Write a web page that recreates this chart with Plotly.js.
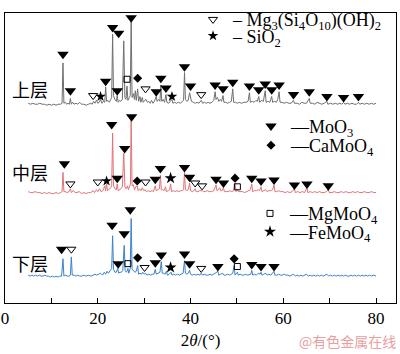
<!DOCTYPE html>
<html><head><meta charset="utf-8">
<script src="https://cdn.plot.ly/plotly-3.0.1.min.js"></script>
<style>html,body{margin:0;padding:0;background:#fff}#chart{width:400px;height:354px}</style>
</head><body><div id="chart"></div>
<script>
// [2θ (°), intensity above baseline]
const topPattern = [[5,2],[5.5,1],[6,2],[6.5,1],[7,1],[7.5,2],[8,1],[8.5,1],[9,0],[9.5,1],[10,0],[10.5,1],[11,0],[11.5,1],[12,1],[12.3,2],[12.5,44],[12.7,2],[13,3],[13.3,1],[13.6,2],[13.9,1],[14.1,7],[14.3,1],[14.6,3],[14.9,1],[15.3,2],[15.7,1],[16.1,3],[16.5,1],[17,1],[17.5,0],[18,1],[18.5,2],[18.8,1],[19.1,4],[19.4,2],[19.7,5],[20,2],[20.3,3],[20.6,6],[20.9,2],[21.2,4],[21.5,3],[21.7,19],[21.9,4],[22.2,5],[22.5,3],[22.8,6],[23,8],[23.2,74],[23.4,10],[23.7,6],[24,4],[24.2,10],[24.4,3],[24.7,5],[25,4],[25.3,6],[25.6,67],[25.85,8],[26.1,6],[26.3,20],[26.5,5],[26.8,8],[27,10],[27.2,87],[27.4,8],[27.7,12],[27.9,6],[28.1,15],[28.3,5],[28.6,17],[28.8,4],[29.1,9],[29.3,3],[29.6,8],[29.8,3],[30.1,5],[30.4,6],[30.7,3],[31,4],[31.3,2],[31.6,5],[31.9,2],[32.2,4],[32.6,9],[32.8,4],[33.1,6],[33.4,4],[33.6,21],[33.8,4],[34.1,6],[34.4,3],[34.7,11],[34.9,3],[35.3,2],[35.6,4],[36,6],[36.2,2],[36.6,3],[37,2],[37.4,3],[37.8,2],[38.2,4],[38.5,5],[38.7,34],[38.9,6],[39.2,4],[39.5,5],[39.8,13],[40,8],[40.2,4],[40.6,3],[41,2],[41.4,3],[41.8,2],[42.3,5],[42.6,2],[43,3],[43.4,2],[43.8,3],[44.2,2],[44.6,3],[45,5],[45.3,14],[45.5,6],[45.8,8],[46.1,4],[46.4,6],[46.7,4],[47,10],[47.2,3],[47.6,3],[48,2],[48.4,3],[48.8,4],[49.1,17],[49.3,3],[49.7,3],[50.1,2],[50.5,3],[51,2],[51.5,3],[52,3],[52.4,4],[52.7,13],[52.9,3],[53.3,4],[53.7,3],[54.1,5],[54.4,4],[54.7,9],[54.9,3],[55.3,5],[55.7,4],[56.1,15],[56.3,3],[56.7,4],[57.1,3],[57.5,9],[57.7,3],[58.1,4],[58.5,3],[58.8,6],[59.1,14],[59.3,3],[59.7,3],[60.2,2],[60.7,3],[61.2,2],[61.7,2],[62.2,5],[62.4,2],[63,2],[63.5,1],[64,3],[64.5,2],[65,2],[65.6,7],[65.8,2],[66.3,2],[66.8,1],[67.3,3],[67.8,2],[68.3,1],[68.8,2],[69.4,4],[69.6,1],[70.2,2],[70.7,1],[71.2,2],[71.7,1],[72.2,2],[72.6,1],[73,3],[73.3,1],[73.8,2],[74.3,1],[74.8,2],[75.3,1],[75.8,1],[76.2,3],[76.5,1],[77,2],[77.5,1],[78,2],[78.5,1],[79,2],[79.5,1],[80,2]];

const midPattern = [[5,2],[5.5,1],[6,1],[6.5,2],[7,1],[7.5,1],[8,0],[8.5,1],[9,0],[9.5,1],[10,0],[10.5,0],[11,1],[11.5,0],[12,1],[12.3,2],[12.5,22],[12.7,2],[13,2],[13.4,1],[13.8,2],[14.1,5],[14.3,1],[14.7,3],[15.1,1],[15.5,1],[16,2],[16.5,0],[17,1],[17.5,0],[18,1],[18.5,1],[19,3],[19.3,1],[19.7,4],[20,2],[20.4,5],[20.7,2],[21.1,3],[21.5,8],[21.7,3],[21.9,10],[22.1,3],[22.4,4],[22.8,6],[23,8],[23.2,63],[23.4,8],[23.7,5],[24,4],[24.2,10],[24.4,3],[24.7,4],[25,5],[25.3,7],[25.6,42],[25.85,7],[26.1,5],[26.4,8],[26.6,4],[26.9,8],[27.05,10],[27.2,77],[27.4,8],[27.7,9],[27.9,4],[28.2,7],[28.5,8],[28.7,3],[29,5],[29.3,3],[29.6,6],[29.9,3],[30.2,4],[30.5,2],[30.9,3],[31.3,2],[31.7,3],[32,2],[32.4,8],[32.6,3],[33,4],[33.3,5],[33.5,19],[33.7,4],[34,4],[34.3,3],[34.6,7],[34.8,2],[35.2,3],[35.5,4],[35.7,10],[35.9,2],[36.3,3],[36.7,2],[37.1,3],[37.5,2],[37.9,3],[38.3,3],[38.5,4],[38.7,22],[38.9,4],[39.2,3],[39.5,4],[39.8,11],[40,3],[40.4,2],[40.7,3],[41,5],[41.2,2],[41.6,2],[42,3],[42.5,3],[42.8,2],[43.2,2],[43.6,3],[44,2],[44.5,2],[45,3],[45.5,9],[45.7,3],[46,4],[46.3,6],[46.5,3],[46.8,3],[47.1,6],[47.3,2],[47.7,2],[48.1,2],[48.5,3],[48.9,2],[49.3,3],[49.6,11],[49.8,2],[50.1,4],[50.3,2],[50.7,2],[51.2,2],[51.7,1],[52.2,2],[52.6,3],[52.9,4],[53.2,10],[53.4,2],[53.8,3],[54.2,3],[54.6,4],[54.9,3],[55.2,7],[55.4,2],[55.8,3],[56.2,4],[56.5,2],[56.9,3],[57.3,3],[57.7,4],[58,9],[58.2,2],[58.6,2],[59,3],[59.4,2],[59.9,2],[60.4,1],[60.9,2],[61.4,1],[61.9,2],[62.4,5],[62.6,1],[63.1,2],[63.6,1],[64.1,2],[64.6,1],[65.1,6],[65.3,1],[65.8,2],[66.3,1],[66.8,2],[67.3,1],[67.8,2],[68.3,1],[68.8,1],[69.3,2],[69.7,4],[69.9,1],[70.5,1],[71,2],[71.5,1],[72,1],[72.5,2],[73,1],[73.5,2],[74,1],[74.5,1],[75,2],[75.5,1],[76,2],[76.5,1],[77,1],[77.5,2],[78,1],[78.5,1],[79,2],[79.5,1],[80,1]];

const botPattern = [[5,2],[5.4,1],[5.8,2],[6.2,1],[6.6,2],[7,1],[7.4,2],[7.8,1],[8.2,1],[8.6,2],[9,1],[9.4,1],[9.8,0],[10.2,1],[10.6,0],[11,1],[11.4,0],[11.8,1],[12.2,1],[12.5,19],[12.7,1],[13,2],[13.4,1],[13.8,1],[14.1,2],[14.3,21],[14.5,2],[14.9,2],[15.3,1],[15.7,2],[16.1,1],[16.5,1],[17,2],[17.5,1],[18,2],[18.5,1],[19,2],[19.4,3],[19.8,2],[20.2,3],[20.6,4],[21,2],[21.4,5],[21.7,3],[22,6],[22.3,4],[22.7,7],[23,9],[23.2,43],[23.4,8],[23.7,5],[24,5],[24.3,9],[24.5,4],[24.8,5],[25.1,5],[25.4,7],[25.7,33],[25.9,7],[26.2,5],[26.5,9],[26.7,4],[27,9],[27.2,61],[27.4,8],[27.7,7],[28,5],[28.3,6],[28.6,12],[28.8,3],[29.1,4],[29.4,3],[29.7,5],[30,3],[30.3,4],[30.6,2],[31,3],[31.4,2],[31.8,3],[32.1,3],[32.4,8],[32.6,3],[33,4],[33.4,5],[33.7,16],[33.9,4],[34.2,4],[34.5,3],[34.8,6],[35,2],[35.4,3],[35.8,5],[36,2],[36.4,3],[36.8,2],[37.2,3],[37.6,2],[38,3],[38.4,4],[38.7,17],[38.9,4],[39.2,3],[39.5,4],[39.8,7],[40,3],[40.4,2],[40.8,3],[41.2,2],[41.6,3],[42,2],[42.3,4],[42.6,2],[43,3],[43.4,2],[43.8,2],[44.2,3],[44.6,2],[45,3],[45.4,4],[45.9,6],[46.1,2],[46.5,3],[46.9,4],[47.2,2],[47.6,2],[48,3],[48.4,2],[48.8,3],[49.1,4],[49.4,12],[49.6,2],[50.1,5],[50.3,2],[50.7,3],[51.1,2],[51.5,2],[51.9,3],[52.3,2],[52.7,3],[53,3],[53.2,7],[53.4,2],[53.8,3],[54.2,2],[54.6,4],[55,3],[55.2,5],[55.4,2],[55.8,3],[56.2,4],[56.5,2],[56.9,3],[57.3,2],[57.7,4],[58,6],[58.2,2],[58.6,2],[59,3],[59.4,2],[59.8,2],[60.2,3],[60.6,2],[61,2],[61.4,1],[61.8,2],[62.2,3],[62.6,1],[63,2],[63.4,1],[63.8,2],[64.2,1],[64.6,2],[65,3],[65.4,1],[65.8,2],[66.2,1],[66.6,2],[67,1],[67.4,2],[67.8,1],[68.2,2],[68.6,1],[69,2],[69.4,3],[69.8,1],[70.2,2],[70.6,1],[71,2],[71.4,1],[71.8,2],[72.2,1],[72.6,2],[73,1],[73.4,2],[73.8,1],[74.2,1],[74.6,2],[75,1],[75.4,2],[75.8,1],[76.2,2],[76.6,1],[77,2],[77.4,1],[77.8,2],[78.2,1],[78.6,2],[79,1],[79.4,2],[79.8,1],[80,1]];

// vertical stacking offsets of the three patterns (top, middle, bottom)
const patternOffsets = [206, 114, 27];
const layerLabels = ['上层', '中层', '下层'];
const layerColors = ['#6f6f6f', '#e07276', '#3c82c8'];

// phase markers [2θ, height above baseline] per pattern
const moo3Top = [[12.5,53],[14.1,15],[21.7,25],[23.2,81],[24.5,75],[24.2,15],[27.2,91],[32.6,14],[33.6,28],[34.7,18],[38.7,40],[40.0,20],[45.3,21],[47.0,17],[49.1,24],[52.7,20],[54.7,16],[56.1,22],[57.5,16],[59.1,21],[62.2,11],[65.6,14],[69.4,9],[73.0,8],[76.2,9]];
const moo3Mid = [[12.8,31],[23.0,72],[24.2,16],[25.8,47],[27.3,80],[32.4,15],[33.5,26],[38.7,27],[39.8,17],[45.5,15],[47.1,11],[53.2,16],[55.2,13],[58.0,14],[62.4,9],[65.1,10],[69.7,8]];
const moo3Bot = [[12.2,29],[23.1,54],[24.4,14],[25.7,45],[27.0,70],[32.4,15],[33.7,23],[38.7,24],[39.8,14],[45.9,11],[53.2,13],[55.2,11],[58.0,11]];
const mg3Top = [[19.0,10],[30.3,17],[42.3,11]];
const mg3Mid = [[14.1,10],[20.0,12],[30.3,12],[41.0,11],[42.5,8]];
const mg3Bot = [[14.3,29],[30.1,10],[42.3,9]];
const sio2Top = [[20.6,9],[36.0,9]];
const sio2Mid = [[21.9,13]];
const sio2Bot = [];
const camoo4Top = [[28.6,28]];
const camoo4Mid = [[28.5,13],[49.6,16]];
const camoo4Bot = [[28.6,20],[49.4,19]];
const mgmoo4Top = [[26.3,27]];
const mgmoo4Mid = [[50.1,7]];
const mgmoo4Bot = [[26.5,14],[50.1,11]];
const femoo4Top = [];
const femoo4Mid = [[35.7,16]];
const femoo4Bot = [[35.7,10]];

const phaseNames = ['– Mg<sub>3</sub>(Si<sub>4</sub>O<sub>10</sub>)(OH)<sub>2</sub>', '– SiO<sub>2</sub>', '—MoO<sub>3</sub>', '—CaMoO<sub>4</sub>', '—MgMoO<sub>4</sub>', '—FeMoO<sub>4</sub>'];
const xTickVals = [0, 20, 40, 60, 80];

const serif = 'Liberation Serif, Times New Roman, serif';
const data = [];
[topPattern, midPattern, botPattern].forEach((p, i) => {
  data.push({
    type: 'scatter', mode: 'lines', showlegend: false, hoverinfo: 'skip',
    x: p.map(d => d[0]), y: p.map(d => d[1] + patternOffsets[i]),
    line: {color: layerColors[i], width: 1}
  });
});

function phaseTrace(sets, name, legend, marker) {
  const x = [], y = [];
  sets.forEach((s, i) => s.forEach(d => { x.push(d[0]); y.push(d[1] + patternOffsets[i]); }));
  return {type: 'scatter', mode: 'markers', x, y, name, legend, marker, hoverinfo: 'skip'};
}
data.push(phaseTrace([mg3Top, mg3Mid, mg3Bot], phaseNames[0], 'legend',
  {symbol: 'triangle-down-open', size: 8, color: '#000', line: {color: '#000', width: 1}}));
data.push(phaseTrace([sio2Top, sio2Mid, sio2Bot], phaseNames[1], 'legend2',
  {symbol: 'star', size: 8, color: '#000', line: {width: 0}}));
data.push(phaseTrace([moo3Top, moo3Mid, moo3Bot], phaseNames[2], 'legend3',
  {symbol: 'triangle-down', size: 10, color: '#000', line: {width: 0}}));
data.push(phaseTrace([camoo4Top, camoo4Mid, camoo4Bot], phaseNames[3], 'legend4',
  {symbol: 'diamond', size: 7, color: '#000', line: {width: 0}}));
data.push(phaseTrace([mgmoo4Top, mgmoo4Mid, mgmoo4Bot], phaseNames[4], 'legend5',
  {symbol: 'square-open', size: 6, color: '#000', line: {color: '#000', width: 1}}));
data.push(phaseTrace([femoo4Top, femoo4Mid, femoo4Bot], phaseNames[5], 'legend6',
  {symbol: 'star', size: 9, color: '#000', line: {width: 0}}));

function leg(px, py, extra) {
  return Object.assign({x: (px - 20 - 5) / 391, y: (303 - py) / 302, xanchor: 'left', yanchor: 'middle',
    bgcolor: 'rgba(0,0,0,0)', borderwidth: 0, itemwidth: 30, tracegroupgap: 0,
    font: {family: serif, size: 18, color: '#000'}}, extra || {});
}

const layout = {
  width: 400, height: 354,
  margin: {l: 5, r: 4, t: 1, b: 51, pad: 0},
  paper_bgcolor: '#fff', plot_bgcolor: '#fff',
  showlegend: true,
  legend: leg(213, 8, {orientation: 'h', entrywidth: 156, entrywidthmode: 'pixels'}),
  legend2: leg(213, 25), legend3: leg(271, 119),
  legend4: leg(271, 139), legend5: leg(270, 210), legend6: leg(270, 229),
  xaxis: {
    range: [0, 84.3], tickmode: 'array', tickvals: xTickVals,
    ticks: 'inside', ticklen: 5, tickwidth: 1, tickcolor: '#000',
    minor: {dtick: 10, tick0: 0, ticks: 'inside', ticklen: 5, tickcolor: '#000', showgrid: false},
    showline: true, linecolor: '#000', linewidth: 1, mirror: true,
    showgrid: false, zeroline: false, automargin: false,
    tickfont: {family: serif, size: 17, color: '#000'},
    title: {text: '2<i>θ</i>/(°)', font: {family: serif, size: 17, color: '#000'}, standoff: 6}
  },
  xaxis2: {
    overlaying: 'x', anchor: 'y', side: 'bottom', range: [0, 84.3],
    tickmode: 'linear', tick0: 0, dtick: 5, ticks: 'inside', ticklen: 3, tickcolor: '#000',
    showticklabels: false, showline: false, showgrid: false, zeroline: false, automargin: false
  },
  yaxis: {
    range: [0, 302], showline: true, linecolor: '#000', linewidth: 1, mirror: true,
    showticklabels: false, ticks: '', showgrid: false, zeroline: false, automargin: false
  },
  annotations: layerLabels.map((t, i) => ({
    text: t, x: 5.4, y: [223, 136, 42][i], xref: 'x', yref: 'y', showarrow: false,
    font: {family: 'Noto Sans CJK SC', size: 18, color: '#000'}
  })).concat([{
    text: '@有色金属在线', xref: 'paper', yref: 'paper', x: 1.006, y: -0.132,
    xanchor: 'right', yanchor: 'middle', showarrow: false,
    font: {family: 'Noto Sans CJK SC', size: 14, color: '#eaa0a0'}
  }])
};

Plotly.newPlot('chart', data, layout, {displayModeBar: false, staticPlot: true});
</script></body></html>
